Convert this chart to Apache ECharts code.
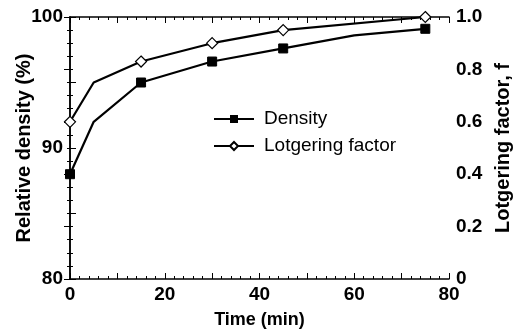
<!DOCTYPE html>
<html>
<head>
<meta charset="utf-8">
<script src="https://cdn.jsdelivr.net/npm/echarts@6/dist/echarts.min.js"></script>
<style>
  html, body { margin: 0; padding: 0; background: #fff; }
  #chart { width: 513px; height: 331px; }
</style>
</head>
<body>
<div id="chart"></div>
<script>
// time (min)
const densityTimes = [0, 5, 15, 30, 45, 60, 75]
const densityValues = [88, 92, 95, 96.6, 97.6, 98.6, 99.1]
const lotgeringTimes = [0, 5, 15, 30, 45, 75]
const lotgeringValues = [0.6, 0.75, 0.83, 0.9, 0.95, 1.0]
// times that were actually measured (get a marker)
const sampleTimes = [0, 15, 30, 45, 75]

const xTickLabels = [0, 20, 40, 60, 80]
const leftTickLabels = [80, 90, 100]

const font = 'Liberation Sans, Arial, sans-serif'

const toPoints = (times, values) =>
  times.map((t, i) => {
    const p = { value: [t, values[i]] }
    if (sampleTimes.indexOf(t) < 0) p.symbol = 'none'
    return p
  })

const chart = echarts.init(document.getElementById('chart'))

const axisLine = { show: true, lineStyle: { color: '#000', width: 1.5 } }
const tickLabel = { fontFamily: font, fontSize: 19, fontWeight: 'bold', color: '#000' }
const nameStyle = { fontFamily: font, fontSize: 18, fontWeight: 'bold', color: '#000' }
const yNameStyle = Object.assign({}, nameStyle, { fontSize: 20 })

const option = {
  backgroundColor: '#fff',
  animation: false,
  grid: { left: 70, right: 64, top: 17, bottom: 52, containLabel: false, outerBoundsMode: 'none' },
  legend: {
    left: 208,
    top: 104,
    orient: 'vertical',
    itemWidth: 40,
    itemHeight: 10,
    itemGap: 7,
    textStyle: { fontFamily: font, fontSize: 19, lineHeight: 20, color: '#000', padding: [0, 0, 0, 5] },
    data: ['Density', 'Lotgering factor']
  },
  xAxis: [
    {
      type: 'value',
      min: 0,
      max: 80,
      interval: 10,
      name: 'Time (min)',
      nameLocation: 'middle',
      nameGap: 32,
      nameMoveOverlap: false,
      nameTextStyle: nameStyle,
      axisLine: axisLine,
      axisTick: { inside: true, length: 6, lineStyle: { color: '#000' } },
      minorTick: { show: true, splitNumber: 5, length: 3, lineStyle: { color: '#000' } },
      axisLabel: Object.assign({}, tickLabel, {
        margin: 6,
        formatter: v => (xTickLabels.indexOf(v) >= 0 ? String(v) : '')
      }),
      splitLine: { show: false }
    },
    {
      type: 'value',
      position: 'top',
      min: 0,
      max: 80,
      interval: 10,
      axisLine: axisLine,
      axisTick: { inside: true, length: 6, lineStyle: { color: '#000' } },
      minorTick: { show: true, splitNumber: 5, length: 3, lineStyle: { color: '#000' } },
      axisLabel: { show: false },
      splitLine: { show: false }
    }
  ],
  yAxis: [
    {
      type: 'value',
      min: 80,
      max: 100,
      interval: 5,
      name: 'Relative density (%)',
      nameLocation: 'middle',
      nameRotate: 90,
      nameGap: 36,
      nameMoveOverlap: false,
      nameTextStyle: yNameStyle,
      axisLine: axisLine,
      axisTick: { inside: true, length: 6, lineStyle: { color: '#000' } },
      minorTick: { show: true, splitNumber: 5, length: 3, lineStyle: { color: '#000' } },
      axisLabel: Object.assign({}, tickLabel, {
        margin: 7,
        formatter: v => (leftTickLabels.indexOf(v) >= 0 ? String(v) : '')
      }),
      splitLine: { show: false }
    },
    {
      type: 'value',
      position: 'right',
      min: 0,
      max: 1,
      interval: 0.2,
      name: 'Lotgering factor, f',
      nameLocation: 'middle',
      nameRotate: 90,
      nameGap: 44,
      nameMoveOverlap: false,
      nameTextStyle: yNameStyle,
      axisLine: axisLine,
      axisTick: { inside: true, length: 6, lineStyle: { color: '#000' } },
      minorTick: { show: true, splitNumber: 4, length: 3, lineStyle: { color: '#000' } },
      axisLabel: Object.assign({}, tickLabel, {
        margin: 7,
        formatter: v => (v === 0 ? '0' : v.toFixed(1))
      }),
      splitLine: { show: false }
    }
  ],
  series: [
    {
      name: 'Density',
      type: 'line',
      xAxisIndex: 0,
      yAxisIndex: 0,
      symbol: 'rect',
      symbolSize: 9,
      clip: false,
      lineStyle: { color: '#000', width: 2.2 },
      itemStyle: { color: '#000', borderColor: '#000' },
      data: toPoints(densityTimes, densityValues)
    },
    {
      name: 'Lotgering factor',
      type: 'line',
      xAxisIndex: 0,
      yAxisIndex: 1,
      symbol: 'diamond',
      symbolSize: 11,
      clip: false,
      lineStyle: { color: '#000', width: 2.2 },
      itemStyle: { color: '#fff', borderColor: '#000', borderWidth: 1.2 },
      data: toPoints(lotgeringTimes, lotgeringValues)
    }
  ]
}

chart.setOption(option)
</script>
</body>
</html>
